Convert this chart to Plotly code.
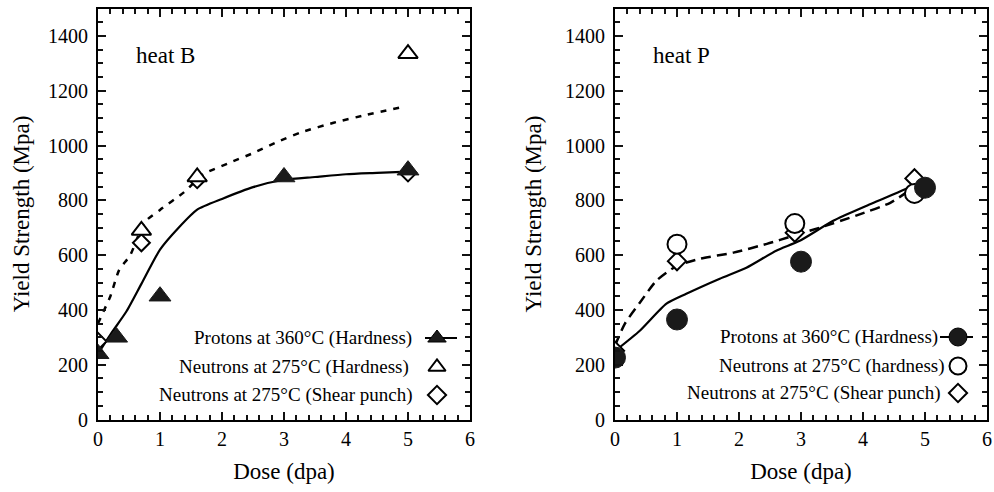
import plotly.graph_objects as go

# ---------------- data ----------------
# heat B
b_prot_dose = [0, 0.3, 1, 3, 5]
b_prot_ys = [240, 300, 450, 885, 910]
b_nh_dose = [0.7, 1.6, 5]
b_nh_ys = [690, 885, 1335]
b_sp_dose = [0, 0.7, 1.6, 5]
b_sp_ys = [285, 645, 875, 900]
b_fit_p_dose = [0, 0.2, 0.46, 0.7, 1, 1.3, 1.6, 2, 2.5, 3, 3.5, 4, 4.5, 5]
b_fit_p_ys = [240, 310, 395, 495, 620, 700, 766, 805, 848, 875, 885, 895, 900, 905]
b_fit_n_dose = [0, 0.1, 0.2, 0.34, 0.52, 0.75, 1.0, 1.39, 1.7, 2.1, 2.5, 2.9, 3.3, 3.8, 4.33, 4.92]
b_fit_n_ys = [350, 400, 450, 545, 600, 720, 765, 830, 895, 935, 972, 1014, 1050, 1083, 1112, 1141]

# heat P
p_prot_dose = [0, 1, 3, 5]
p_prot_ys = [226, 365, 576, 846]
p_nh_dose = [1, 2.9, 4.83]
p_nh_ys = [640, 715, 825]
p_sp_dose = [0, 1, 2.9, 4.83]
p_sp_ys = [251, 578, 682, 880]
p_fit_p_dose = [0, 0.4, 0.83, 1.15, 1.69, 2.12, 2.6, 2.98, 3.52, 4.06, 4.81, 4.85]
p_fit_p_ys = [250, 324, 423, 459, 514, 554, 616, 652, 725, 780, 853, 858]
p_fit_n_dose = [0, 0.16, 0.4, 0.67, 1.0, 1.38, 1.91, 2.45, 2.88, 3.3, 3.9, 4.44, 4.81, 4.85]
p_fit_n_ys = [270, 350, 426, 507, 561, 587, 609, 641, 671, 700, 745, 791, 846, 855]

x_tick_step = 1
y_tick_step = 200

legend_b = ["Protons at 360°C (Hardness)", "Neutrons at 275°C (Hardness)", "Neutrons at 275°C (Shear punch)"]
legend_p = ["Protons at 360°C (Hardness)", "Neutrons at 275°C (hardness)", "Neutrons at 275°C (Shear punch)"]

# ---------------- layout helpers ----------------
W, H = 994, 492
FONT = "'Liberation Serif', 'Times New Roman', Times, serif"


def fx(px):
    return px / W


def fy(py):
    return 1 - py / H


LEFT = (98, 470)
RIGHT = (615, 987)
TOP, BOT = 8.5, 419.5
YMAX = 1500

fig = go.Figure()

BLK = "black"


def add_panel(xa, ya, prot, nh, sp, fitp, fitn, nh_symbol, prot_symbol, dashpat, psize, nsize, ssize):
    fig.add_trace(go.Scatter(x=fitn[0], y=fitn[1], mode="lines", xaxis=xa, yaxis=ya,
                             line=dict(color=BLK, width=2.5, dash=dashpat, shape="spline", smoothing=0.6),
                             showlegend=False))
    fig.add_trace(go.Scatter(x=fitp[0], y=fitp[1], mode="lines", xaxis=xa, yaxis=ya,
                             line=dict(color=BLK, width=2.2, shape="spline", smoothing=0.6),
                             showlegend=False))
    fig.add_trace(go.Scatter(x=sp[0], y=sp[1], mode="markers", xaxis=xa, yaxis=ya,
                             marker=dict(symbol="diamond", size=ssize, color="white",
                                         line=dict(color=BLK, width=2)), showlegend=False))
    fig.add_trace(go.Scatter(x=nh[0], y=nh[1], mode="markers", xaxis=xa, yaxis=ya,
                             marker=dict(symbol=nh_symbol, size=nsize, color="white",
                                         line=dict(color=BLK, width=2)), showlegend=False))
    fig.add_trace(go.Scatter(x=prot[0], y=prot[1], mode="markers", xaxis=xa, yaxis=ya,
                             marker=dict(symbol=prot_symbol, size=psize, color="#1a1a1a",
                                         line=dict(color="#1a1a1a", width=1)), showlegend=False))


add_panel("x", "y", (b_prot_dose, b_prot_ys), (b_nh_dose, b_nh_ys), (b_sp_dose, b_sp_ys),
          (b_fit_p_dose, b_fit_p_ys), (b_fit_n_dose, b_fit_n_ys),
          "triangle-up", "triangle-up", "6px,7px", 19, 17, 13)
add_panel("x2", "y2", (p_prot_dose, p_prot_ys), (p_nh_dose, p_nh_ys), (p_sp_dose, p_sp_ys),
          (p_fit_p_dose, p_fit_p_ys), (p_fit_n_dose, p_fit_n_ys),
          "circle", "circle", "10px,6px", 21, 19, 14)


# legend keys: pixel positions converted to each panel's data units
def px_to_data(dom, px, py):
    return (px - dom[0]) / (dom[1] - dom[0]) * 6, (BOT - py) / (BOT - TOP) * YMAX


def key(xa, ya, dom, cx, cy, symbol, filled, size, line_from=None):
    kx, ky = px_to_data(dom, cx, cy)
    if line_from is not None:
        lx0, _ = px_to_data(dom, line_from[0], cy)
        lx1, _ = px_to_data(dom, line_from[1], cy)
        fig.add_trace(go.Scatter(x=[lx0, lx1], y=[ky, ky], mode="lines", xaxis=xa, yaxis=ya,
                                 line=dict(color=BLK, width=2), showlegend=False, hoverinfo="skip"))
    fig.add_trace(go.Scatter(x=[kx], y=[ky], mode="markers", xaxis=xa, yaxis=ya,
                             marker=dict(symbol=symbol, size=size,
                                         color="#1a1a1a" if filled else "white",
                                         line=dict(color=BLK, width=2 if not filled else 1)),
                             showlegend=False, hoverinfo="skip"))


key("x", "y", LEFT, 437, 338, "triangle-up", True, 16, (425, 457))
key("x", "y", LEFT, 437, 367, "triangle-up", False, 15)
key("x", "y", LEFT, 437, 395, "diamond", False, 14)
key("x2", "y2", RIGHT, 958, 337, "circle", True, 18, (940, 973))
key("x2", "y2", RIGHT, 958, 366, "circle", False, 17)
key("x2", "y2", RIGHT, 958, 393, "diamond", False, 14)

annotations = []
for txt, right, py in zip(legend_b, [414, 411, 415], [338, 367, 395]):
    annotations.append(dict(text=txt, x=fx(right), y=fy(py), xref="paper", yref="paper",
                            xanchor="right", yanchor="middle", showarrow=False,
                            font=dict(family=FONT, size=19, color=BLK)))
for txt, right, py in zip(legend_p, [940, 947, 943], [337, 366, 393]):
    annotations.append(dict(text=txt, x=fx(right), y=fy(py), xref="paper", yref="paper",
                            xanchor="right", yanchor="middle", showarrow=False,
                            font=dict(family=FONT, size=19, color=BLK)))
annotations.append(dict(text="heat B", x=fx(134), y=fy(55), xref="paper", yref="paper",
                        xanchor="left", yanchor="middle", showarrow=False,
                        font=dict(family=FONT, size=23, color=BLK)))
annotations.append(dict(text="heat P", x=fx(651), y=fy(55), xref="paper", yref="paper",
                        xanchor="left", yanchor="middle", showarrow=False,
                        font=dict(family=FONT, size=23, color=BLK)))


def xaxis_cfg(dom, anchor, tc):
    return dict(domain=[fx(dom[0]), fx(dom[1])], range=[0, 6], tickmode="linear", tick0=0, dtick=x_tick_step,
                anchor=anchor, automargin=False,
                ticks="inside", ticklen=8, tickwidth=2, tickcolor=tc,
                minor=dict(dtick=0.2, ticks="inside", ticklen=5, tickwidth=1.5, tickcolor=tc),
                showline=True, linewidth=2, linecolor=BLK, mirror="ticks",
                showgrid=False, zeroline=False,
                tickfont=dict(family=FONT, size=20, color=BLK),
                title=dict(text="Dose (dpa)", font=dict(family=FONT, size=23, color=BLK), standoff=14))


def yaxis_cfg(anchor, standoff, tc):
    return dict(domain=[fy(BOT), fy(TOP)], range=[0, YMAX], tickmode="linear", tick0=0, dtick=y_tick_step,
                anchor=anchor, automargin=False,
                ticks="inside", ticklen=8, tickwidth=2, tickcolor=tc,
                minor=dict(dtick=50, ticks="inside", ticklen=5, tickwidth=1.5, tickcolor=tc),
                showline=True, linewidth=2, linecolor=BLK, mirror="ticks",
                showgrid=False, zeroline=False, ticklabelstandoff=4,
                tickfont=dict(family=FONT, size=20, color=BLK),
                title=dict(text="Yield Strength (Mpa)", font=dict(family=FONT, size=23, color=BLK),
                           standoff=standoff))


fig.update_layout(
    width=W, height=H,
    margin=dict(l=0, r=0, t=0, b=0),
    plot_bgcolor="white",
    xaxis=xaxis_cfg(LEFT, "y", "#111111"), yaxis=yaxis_cfg("x", 12, "#111111"),
    xaxis2=xaxis_cfg(RIGHT, "y2", "rgb(20,20,20)"), yaxis2=yaxis_cfg("x2", 17, "rgb(20,20,20)"),
    annotations=annotations,
    showlegend=False,
)

fig.write_html("out.html")
